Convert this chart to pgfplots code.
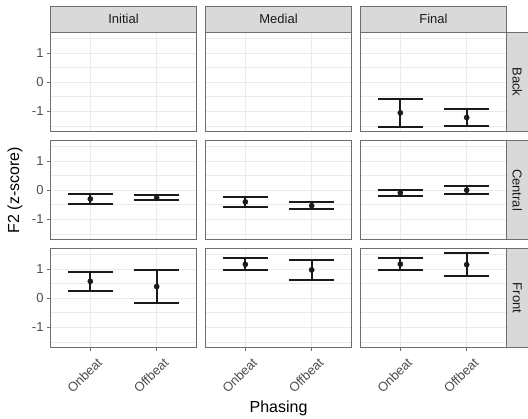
\documentclass[border=0pt]{standalone}
\usepackage{fontspec}
\setmainfont{Liberation Sans}
\usepackage{pgfplots}
\pgfplotsset{compat=1.18}
\usepgfplotslibrary{groupplots}
\definecolor{gridc}{HTML}{EBEBEB}
\definecolor{borderc}{HTML}{6E6E6E}
\definecolor{stripc}{HTML}{D9D9D9}
\definecolor{tickc}{HTML}{4D4D4D}
\definecolor{stript}{HTML}{1A1A1A}
\definecolor{barc}{HTML}{1A1A1A}
\pgfplotsset{
  panel/.style={
    set layers=standard,
    width=146bp, height=99bp, scale only axis,
    xmin=0.4, xmax=2.6, ymin=-1.69, ymax=1.705,
    xtick={1,2}, xticklabels={Onbeat,Offbeat},
    ytick={-1,0,1}, yticklabels={-1,0,1},
    minor ytick={-1.5,-0.5,0.5,1.5},
    grid=both,
    major grid style={draw=gridc, line width=1bp},
    minor grid style={draw=gridc, line width=0.6bp},
    axis line style={draw=borderc, line width=0.9bp},
    tick align=outside, xtick pos=bottom, ytick pos=left,
    major tick length=3.5bp, minor tick length=0pt,
    tick style={draw=borderc, line width=0.9bp},
    ticklabel style={font=\fontsize{13bp}{13bp}\selectfont, text=tickc},
    xticklabel style={xshift=6bp, yshift=-1bp, rotate=45, anchor=north east},
    clip=false, unbounded coords=jump,
  },
  noxt/.style={xtick style={draw=none}},
  noyt/.style={ytick style={draw=none}},
  vl/.style={line width=2bp, draw=barc, mark=none},
  eb/.style={only marks, mark=*, mark size=2.6bp, barc,
     mark options={fill=barc, draw=barc},
     error bars/.cd, y dir=both, y explicit,
     error bar style={line width=2bp, draw=barc},
     error mark options={rotate=90, mark size=22.5bp, line width=2bp, draw=barc}},
}
\newcommand{\topstrip}[1]{%
  \draw[borderc, fill=stripc, line width=0.9bp] (rel axis cs:0,1) rectangle ([yshift=26.5bp]rel axis cs:1,1);
  \node[font=\fontsize{13bp}{13bp}\selectfont, text=stript] at ([yshift=13.25bp]rel axis cs:0.5,1) {#1};}
\newcommand{\rightstrip}[1]{%
  \draw[borderc, fill=stripc, line width=0.9bp] (rel axis cs:1,0) rectangle ([xshift=21.5bp]rel axis cs:1,1);
  \node[rotate=-90, font=\fontsize{13bp}{13bp}\selectfont, text=stript] at ([xshift=10.75bp]rel axis cs:1,0.5) {#1};}
\begin{document}
\begin{tikzpicture}
\begin{groupplot}[
  group style={group size=3 by 3, horizontal sep=9bp, vertical sep=9bp,
    xticklabels at=edge bottom, yticklabels at=edge left},
  panel]
% Row 1: Back
\nextgroupplot[noxt]
\topstrip{Initial}
\nextgroupplot[noxt,noyt]
\topstrip{Medial}
\nextgroupplot[noxt,noyt]
\topstrip{Final}
\rightstrip{Back}
\addplot[vl] coordinates {(1,-1.54) (1,-0.56) (1.5,nan) (2,-1.49) (2,-0.93)};
\addplot[eb] coordinates {(1,-1.05) +- (0,0.49) (2,-1.21) +- (0,0.28)};
% Row 2: Central
\nextgroupplot[noxt]
\addplot[vl] coordinates {(1,-0.485) (1,-0.115) (1.5,nan) (2,-0.34) (2,-0.18)};
\addplot[eb] coordinates {(1,-0.30) +- (0,0.185) (2,-0.26) +- (0,0.08)};
\node[rotate=90, font=\fontsize{16bp}{16bp}\selectfont] at ([xshift=-35.5bp]rel axis cs:0,0.5) {F2 (z-score)};
\nextgroupplot[noxt,noyt]
\addplot[vl] coordinates {(1,-0.57) (1,-0.23) (1.5,nan) (2,-0.65) (2,-0.41)};
\addplot[eb] coordinates {(1,-0.40) +- (0,0.17) (2,-0.53) +- (0,0.12)};
\nextgroupplot[noxt,noyt]
\rightstrip{Central}
\addplot[vl] coordinates {(1,-0.20) (1,0.02) (1.5,nan) (2,-0.14) (2,0.14)};
\addplot[eb] coordinates {(1,-0.09) +- (0,0.11) (2,0.0) +- (0,0.14)};
% Row 3: Front
\nextgroupplot
\addplot[vl] coordinates {(1,0.245) (1,0.915) (1.5,nan) (2,-0.16) (2,0.96)};
\addplot[eb] coordinates {(1,0.58) +- (0,0.335) (2,0.40) +- (0,0.56)};
\nextgroupplot[noyt]
\addplot[vl] coordinates {(1,0.955) (1,1.365) (1.5,nan) (2,0.63) (2,1.31)};
\addplot[eb] coordinates {(1,1.16) +- (0,0.205) (2,0.97) +- (0,0.34)};
\node[font=\fontsize{16bp}{16bp}\selectfont] at ([yshift=-60.5bp]rel axis cs:0.5,0) {Phasing};
\nextgroupplot[noyt]
\rightstrip{Front}
\addplot[vl] coordinates {(1,0.96) (1,1.38) (1.5,nan) (2,0.75) (2,1.55)};
\addplot[eb] coordinates {(1,1.17) +- (0,0.21) (2,1.15) +- (0,0.40)};
\end{groupplot}
\pgfresetboundingbox
\path ([xshift=-50.5bp,yshift=32.5bp]group c1r1.north west) rectangle ++(528bp,-419bp);
\end{tikzpicture}
\end{document}
